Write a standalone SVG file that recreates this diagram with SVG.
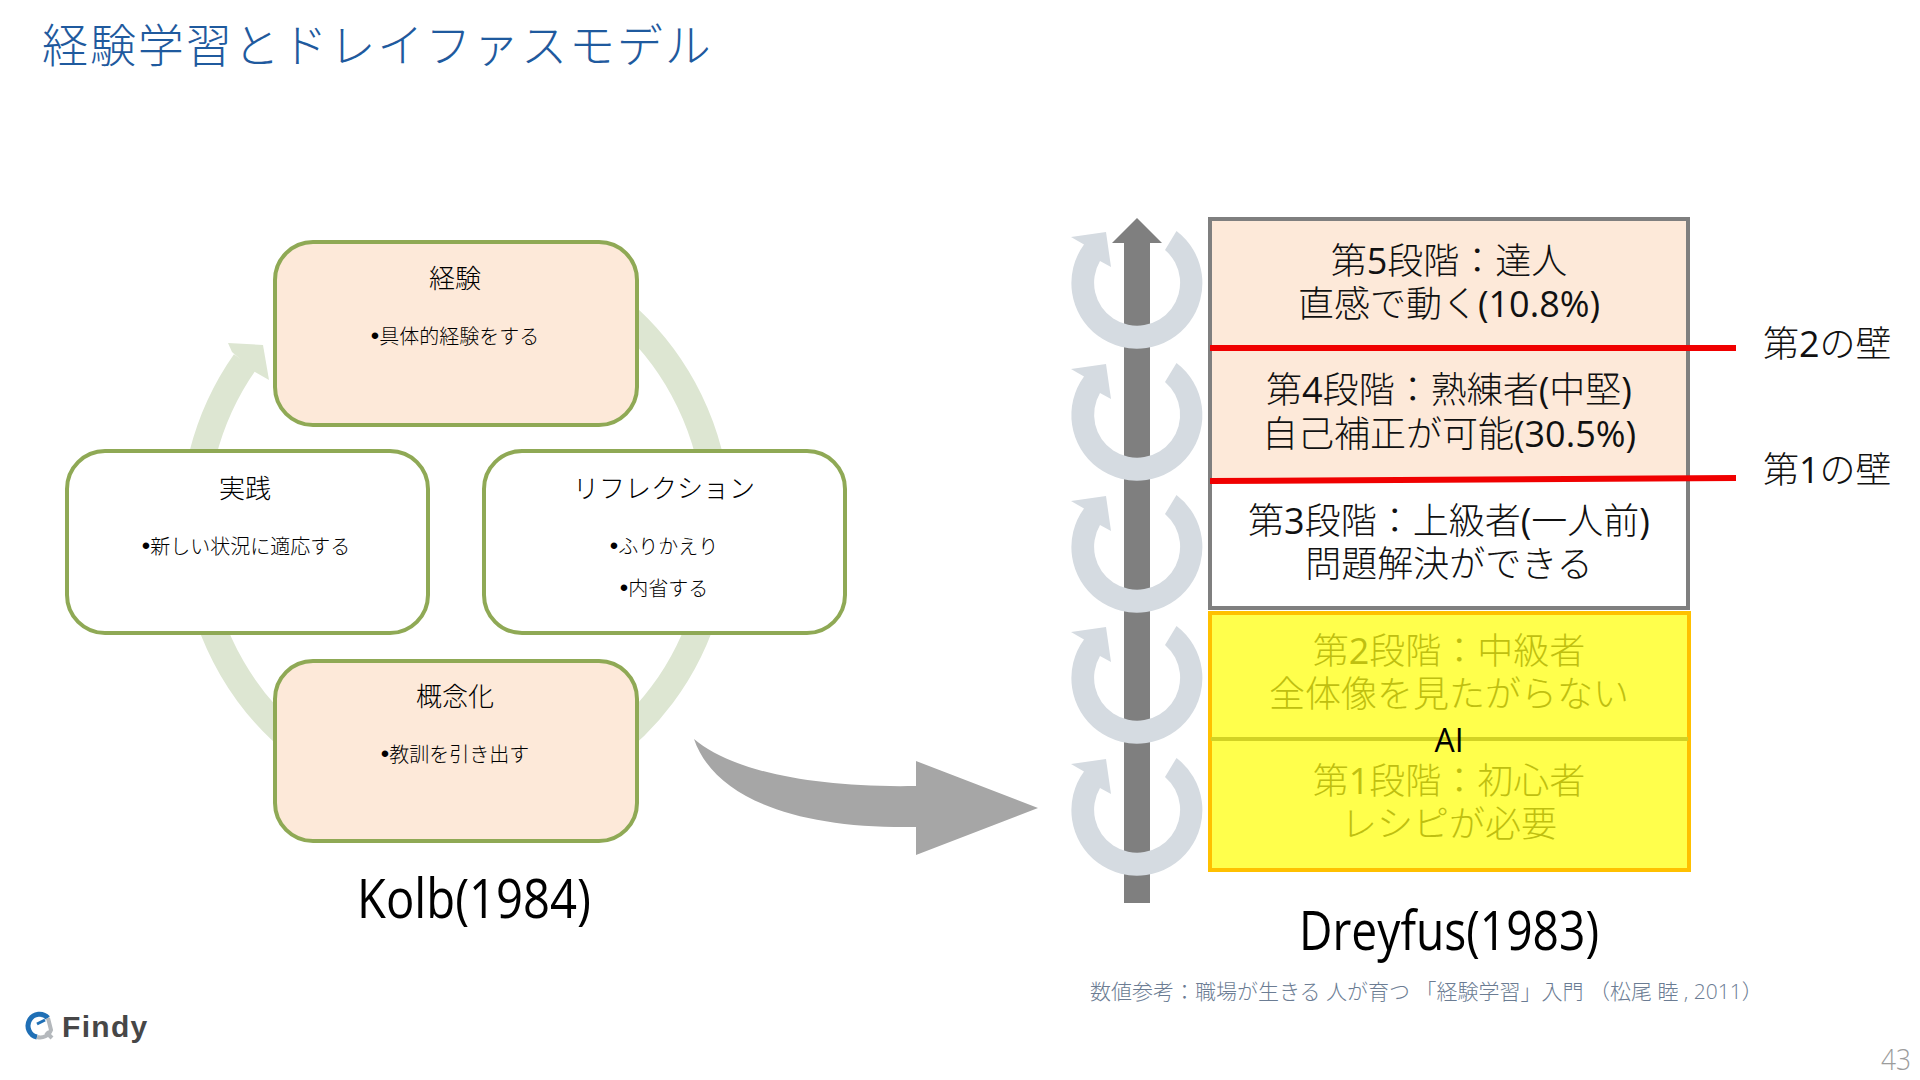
<svg xmlns="http://www.w3.org/2000/svg" width="1920" height="1080" viewBox="0 0 1920 1080">
<style>
text{font-family:"Open Sans","Noto Sans CJK JP",sans-serif;font-weight:300;fill:#000}
.m{text-anchor:middle}
.bt{font-size:26px}
.bl{font-size:20px}
.t{font-size:36px;text-anchor:middle;fill:#111}
.y{font-size:36px;text-anchor:middle;fill:#BFBF10}
.l{font-weight:400}
.d{font-family:"Liberation Sans",sans-serif;font-weight:400;font-size:24px}
.box{stroke:#8FA955;stroke-width:4}
.w{fill:#fff}
.p{fill:#FDE9D9}
.ring{fill:#D5DBE1}
.cap{font-size:54px;font-weight:400;text-anchor:middle}
</style>
<defs>
<path id="cyc" d="M39.5-52A65.5 65.5 0 1 1-53-38.5L-66-46-31-51-26-16-37-22A43 43 0 1 0 28-33Z"/>
</defs>
<rect width="1920" height="1080" fill="#fff"/>
<text id="title" x="42" y="62" style="font-size:46px;fill:#1F5A9E;letter-spacing:1.9px">経験学習とドレイファスモデル</text>
<g id="connectors">
<path id="cycle-ring" d="M245 362A262 275 0 1 0 620 311" fill="none" stroke="#DDE6D2" stroke-width="27"/>
<path id="cycle-head" d="M228 343L263 345L269 380L255 372L232 352Z" fill="#DDE6D2"/>
<path id="big-arrow" d="M694 739C730 770 810 788 916 786V761L1038 808L916 855V827C800 829 715 800 694 739Z" fill="#A6A6A6"/>
<path id="ladder" d="M1124 243H1112L1137 218L1162 243H1150V903H1124Z" fill="#7F7F7F"/>
</g>
<g id="cycles" class="ring">
<use href="#cyc" x="1137" y="283"/>
<use href="#cyc" x="1137" y="415"/>
<use href="#cyc" x="1137" y="547"/>
<use href="#cyc" x="1137" y="678"/>
<use href="#cyc" x="1137" y="810"/>
</g>
<g id="kolb-exp"><rect class="box p" x="275" y="242" width="362" height="183" rx="38"/>
<text class="m bt" x="455" y="288">経験</text><text class="m bl" x="455" y="344"><tspan class="d">•</tspan>具体的経験をする</text></g>
<g id="kolb-practice"><rect class="box w" x="67" y="451" width="361" height="182" rx="38"/>
<text class="m bt" x="245" y="498">実践</text><text class="m bl" x="246" y="554"><tspan class="d">•</tspan>新しい状況に適応する</text></g>
<g id="kolb-reflection"><rect class="box w" x="484" y="451" width="361" height="182" rx="38"/>
<text class="m bt" x="664" y="498">リフレクション</text><text class="m bl" x="664" y="554"><tspan class="d">•</tspan>ふりかえり</text><text class="m bl" x="664" y="596"><tspan class="d">•</tspan>内省する</text></g>
<g id="kolb-concept"><rect class="box p" x="275" y="661" width="362" height="180" rx="38"/>
<text class="m bt" x="455" y="706">概念化</text><text class="m bl" x="455" y="762"><tspan class="d">•</tspan>教訓を引き出す</text></g>
<text id="kolb-label" class="cap" x="474" y="918" textLength="234" lengthAdjust="spacingAndGlyphs">Kolb(1984)</text>
<g id="stage5"><rect class="p" x="1210" y="220" width="478" height="130"/>
<text class="t" x="1449" y="274">第<tspan class="l">5</tspan>段階：達人</text><text class="t" x="1449" y="317">直感で動く<tspan class="l">(10.8%)</tspan></text></g>
<g id="stage4"><rect class="p" x="1210" y="348" width="478" height="132"/>
<text class="t" x="1449" y="403">第<tspan class="l">4</tspan>段階：熟練者<tspan class="l">(</tspan>中堅<tspan class="l">)</tspan></text><text class="t" x="1449" y="447">自己補正が可能<tspan class="l">(30.5%)</tspan></text></g>
<g id="stage3"><rect class="w" x="1210" y="480" width="478" height="128"/>
<text class="t" x="1449" y="534">第<tspan class="l">3</tspan>段階：上級者<tspan class="l">(</tspan>一人前<tspan class="l">)</tspan></text><text class="t" x="1449" y="577">問題解決ができる</text></g>
<rect id="stage-frame" x="1210" y="219" width="478" height="389" fill="none" stroke="#7F7F7F" stroke-width="4"/>
<g id="walls">
<path d="M1210 348H1736" stroke="#F00000" stroke-width="6" fill="none"/>
<path d="M1210 481L1736 478" stroke="#F00000" stroke-width="6" fill="none"/>
</g>
<g id="stage-ai"><rect x="1208" y="611" width="482" height="260" fill="#7F7F7F"/>
<rect x="1210" y="613" width="479" height="257" fill="#FFFF4C" stroke="#FFC000" stroke-width="4"/>
<path d="M1211 739H1688" stroke="#D2D224" stroke-width="4"/>
<text class="y" x="1449" y="664">第<tspan class="l">2</tspan>段階：中級者</text><text class="y" x="1449" y="707">全体像を見たがらない</text>
<text class="y" x="1449" y="794">第<tspan class="l">1</tspan>段階：初心者</text><text class="y" x="1449" y="837">レシピが必要</text>
<text class="m" x="1449" y="752" style="font-size:32px;font-weight:400">AI</text></g>
<text id="wall2" x="1763" y="357" style="font-size:36px;fill:#111">第<tspan class="l">2</tspan>の壁</text>
<text id="wall1" x="1763" y="483" style="font-size:36px;fill:#111">第<tspan class="l">1</tspan>の壁</text>
<text id="dreyfus-label" class="cap" x="1449" y="950" textLength="300" lengthAdjust="spacingAndGlyphs">Dreyfus(1983)</text>
<text id="citation" x="1090" y="999" style="font-size:21px;fill:#6B7C93">数値参考：職場が生きる 人が育つ 「経験学習」入門 （松尾 睦 , 2011）</text>
<g id="logo">
<path d="M48 1018A11.5 11.5 0 1 0 37 1037" fill="none" stroke="#1F6FB5" stroke-width="5"/>
<path d="M37 1037A11.5 11.5 0 0 0 51 1030L48 1018" fill="none" stroke="#B4B8BC" stroke-width="4"/>
<path d="M37 1024L45 1020" stroke="#1F6FB5" stroke-width="3"/>
<path d="M46 1032L52 1038" stroke="#B4B8BC" stroke-width="4"/>
<text x="62" y="1037" style="font-family:'Liberation Sans',sans-serif;font-size:30px;font-weight:700;fill:#474747;letter-spacing:1.3px">Findy</text>
</g>
<text id="page" x="1911" y="1070" text-anchor="end" textLength="30" lengthAdjust="spacingAndGlyphs" style="font-size:30px;fill:#9C9C9C">43</text>
</svg>
